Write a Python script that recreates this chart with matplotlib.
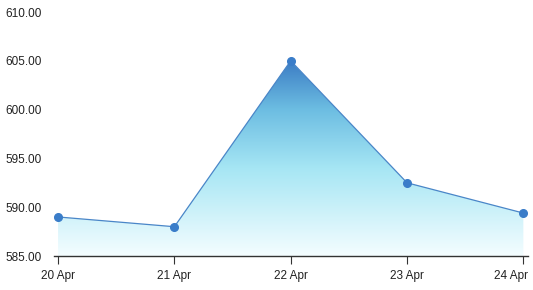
import matplotlib
matplotlib.use("Agg")
import matplotlib.pyplot as plt
import matplotlib.transforms as mtransforms
import numpy as np
from matplotlib.colors import LinearSegmentedColormap

# data
dates = ["20 Apr", "21 Apr", "22 Apr", "23 Apr", "24 Apr"]
values = [589.0, 588.0, 605.0, 592.5, 589.4]
yticks = [585, 590, 595, 600, 605, 610]

plt.rcParams['font.family'] = ['Liberation Sans', 'DejaVu Sans']

fig = plt.figure(figsize=(5.33, 2.90), dpi=100)
ax = fig.add_axes([54 / 533, 34 / 290, 474 / 533, 244 / 290])

x = np.arange(len(dates))
ymin, ymax = 585, 610

# gradient fill clipped to the area under the line
cmap = LinearSegmentedColormap.from_list(
    "area", [(0.0, "#f4fdff"), (0.45, "#a6e6f4"), (0.75, "#6cbde2"), (1.0, "#3b7cc4")])
poly = ax.fill_between(x, values, ymin, color="none", lw=0)
grad = np.linspace(0, 1, 256).reshape(-1, 1)
img = ax.imshow(grad, cmap=cmap, origin="lower", aspect="auto",
                extent=[x[0], x[-1], ymin, max(values)], zorder=1)
img.set_clip_path(poly.get_paths()[0], transform=ax.transData)

ax.plot(x, values, color="#4a86c8", lw=0.9, marker="o", ms=5.5,
        mfc="#3a7dc9", mec="#3a7dc9", zorder=3, clip_on=False)

ax.set_xlim(-0.035, 4.04)
ax.set_ylim(ymin, ymax)
ax.set_xticks(x)
ax.set_xticklabels(dates)
ax.set_yticks(yticks)
ax.set_yticklabels(["{:.2f}".format(v) for v in yticks], ha="left")

for s in ["top", "right", "left"]:
    ax.spines[s].set_visible(False)
ax.spines["bottom"].set_color("#333333")
ax.spines["bottom"].set_linewidth(1.0)

ax.tick_params(axis="y", length=0, pad=35, labelsize=8.5, labelcolor="#222222")
ax.tick_params(axis="x", length=6, width=0.8, color="#333333", pad=4,
               labelsize=8.5, labelcolor="#222222")

# last label is pulled in so it stays inside the figure
last = ax.get_xticklabels()[-1]
last.set_ha("right")
last.set_transform(last.get_transform() +
                   mtransforms.ScaledTranslation(5 / 100, 0, fig.dpi_scale_trans))

fig.savefig("out.png", dpi=100)
